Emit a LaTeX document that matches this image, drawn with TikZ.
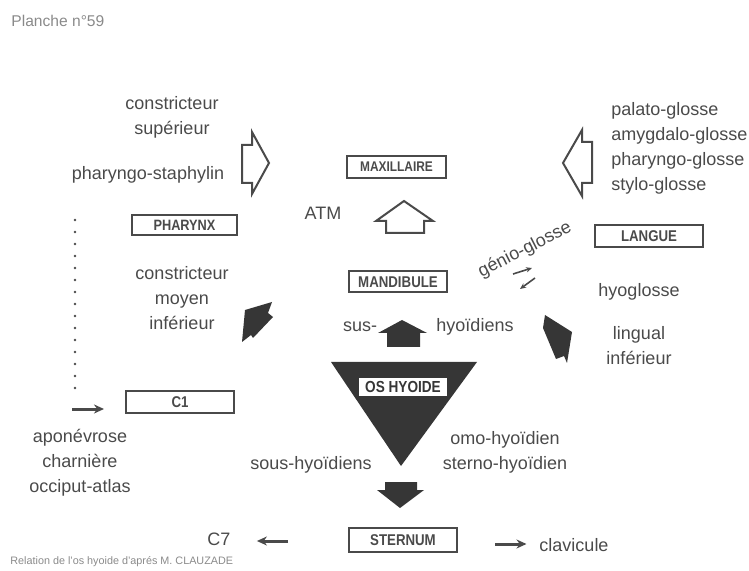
\documentclass[tikz,border=0pt]{standalone}
\usepackage{fontspec}
\setmainfont{Liberation Sans}
\newfontfamily\capsfont{Liberation Sans}[FakeStretch=0.85]
\usetikzlibrary{arrows.meta,positioning}
\definecolor{ink}{HTML}{4A4A4A}
\definecolor{soot}{HTML}{363636}
\definecolor{faint}{HTML}{8A8A8A}

\begin{document}
\begin{tikzpicture}[x=0.5pt,y=-0.5pt,
  organ/.style={draw=ink,line width=1pt,minimum height=11pt,minimum width=54pt,
    inner sep=0pt,text=ink,font=\capsfont\bfseries\fontsize{7.8}{9}\selectfont},
  lbl/.style={text=ink,font=\fontsize{9}{12.5}\selectfont,align=center,inner sep=0pt},
  hollow/.style={draw=ink,line width=1pt,line join=miter,fill=white},
  dark/.style={fill=soot,draw=none},
  push/.style={draw=ink,line width=1.5pt,-{Stealth[length=5pt,width=4.5pt]}},
  tiny/.style={draw=ink,line width=0.8pt,-{Stealth[length=3pt,width=2.6pt]}}]
\useasboundingbox (0,0) rectangle (749,571);
% titre et legende
\node[anchor=west,text=faint,font=\fontsize{7.8}{9}\selectfont,inner sep=0pt] (title) at (11,21) {Planche n°59};
\node[anchor=west,text=faint,font=\fontsize{5.4}{6}\selectfont,inner sep=0pt] (caption) at (10,562) {Relation de l'os hyoide d'aprés M. CLAUZADE};
% les organes
\node[organ,minimum width=49.5pt,font=\capsfont\bfseries\fontsize{7}{8}\selectfont] (maxi) at (396.5,167) {MAXILLAIRE};
\node[organ,minimum width=49pt,minimum height=10.5pt] (mandi) at (398,282) {MANDIBULE};
\node[organ,minimum width=52.5pt,minimum height=10pt,font=\capsfont\bfseries\fontsize{7.5}{9}\selectfont] (pharynx) at (184.5,225) {PHARYNX};
\node[organ] (c1) at (180,402) {C1};
\node[organ] (langue) at (649,236) {LANGUE};
\node[organ,minimum height=12pt] (sternum) at (403,540) {STERNUM};
% les muscles
\node[lbl] (supTxt) at (172,117) {constricteur\\supérieur};
\node[lbl] (staph) at (148,175) {pharyngo-staphylin};
\node[lbl] (moyTxt) at (182,298) {constricteur\\moyen\\inférieur};
\node[lbl] (atm) at (323,213) {ATM};
\node[lbl,anchor=west,align=left] (glosses) at (611,148) {palato-glosse\\amygdalo-glosse\\pharyngo-glosse\\stylo-glosse};
\node[lbl,rotate=27] (genio) at (525,250) {génio-glosse};
\node[lbl] (hyoglosse) at (639,292) {hyoglosse};
\node[lbl] (lingual) at (639,346) {lingual\\inférieur};
\node[lbl] (sus) at (360,327) {sus-};
\node[lbl] (susHyo) at (475,327) {hyoïdiens};
\node[lbl] (omo) at (505,452) {omo-hyoïdien\\sterno-hyoïdien};
\node[lbl] (sousHyo) at (311,465) {sous-hyoïdiens};
\node[lbl] (apo) at (80,463) {aponévrose\\charnière\\occiput-atlas};
\node[lbl] (c7) at (219,539) {C7};
\node[lbl] (clav) at (574,545) {clavicule};
% os hyoide
\fill[soot] (331,362) -- (477,362) -- (401,466) -- cycle;
\node[fill=white,minimum width=44pt,minimum height=9pt,inner sep=0pt,text=soot,
  font=\capsfont\bfseries\fontsize{8}{9}\selectfont] (hyoide) at (403,387) {OS HYOIDE};
% fleches creuses
\draw[hollow] (242,145) -- (252,145) -- (252,132) -- (269,163) -- (252,194) -- (252,183) -- (242,183) -- cycle;
\draw[hollow] (592,142) -- (582,142) -- (582,130) -- (563,163) -- (582,196) -- (582,183) -- (592,183) -- cycle;
\draw[hollow] (386,233) -- (386,221) -- (376,221) -- (404,201) -- (433,221) -- (424,221) -- (424,233) -- cycle;
% fleches pleines
\fill[dark] (387,347) -- (387,333) -- (378,333) -- (402,320) -- (427,333) -- (420,333) -- (420,347) -- cycle;
\fill[dark] (385,482) -- (417,482) -- (417,490) -- (424,490) -- (400,508) -- (377,490) -- (385,490) -- cycle;
\fill[dark] (245,310) -- (272,302) -- (268,313) -- (273,317) -- (253,338) -- (251,335) -- (242,342) -- cycle;
\fill[dark] (545,315) -- (572,332) -- (567,363) -- (564,356) -- (556,359) -- (543,328) -- cycle;
% petites fleches
\coordinate (dotTop) at (75,220);
\coordinate (dotEnd) at (75,396);
\draw[ink,line width=1.3pt,line cap=round,dash pattern=on 0pt off 6pt] (dotTop) -- (dotEnd);
\coordinate (c1tail) at (72,409);
\draw[push,shorten >=10.5pt] (c1tail) -- (c1tail -| c1.west);
\coordinate (c7tail) at (288,541);
\draw[push,shorten >=13pt] (c7tail) -- (c7tail -| c7.east);
\coordinate (clavtail) at (495,544);
\draw[push,shorten >=6.3pt] (clavtail) -- (clavtail -| clav.west);
\coordinate (gUpA) at (513,274);
\coordinate (gUpB) at (532,268);
\coordinate (gDnA) at (535,278);
\coordinate (gDnB) at (520,289);
\draw[tiny] (gUpA) -- (gUpB);
\draw[tiny] (gDnA) -- (gDnB);
\end{tikzpicture}
\end{document}
